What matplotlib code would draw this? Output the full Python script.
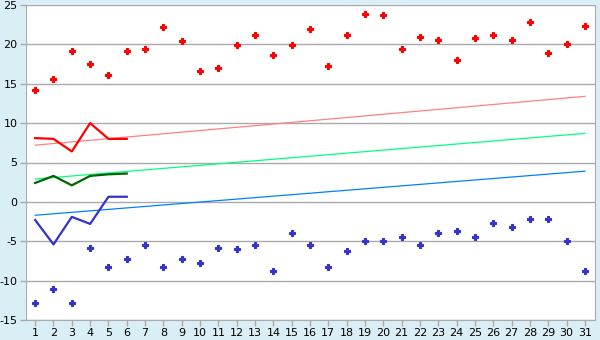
import numpy as np
import matplotlib.pyplot as plt

plt.rcParams['axes.unicode_minus'] = False

# Данные
days = np.arange(1, 32)
high_pts = [14.2, 15.6, 19.1, 17.5, 16.1, 19.2, 19.4, 22.2, 20.4, 16.6,
            17.0, 19.9, 21.2, 18.6, 19.9, 22.0, 17.3, 21.2, 23.9, 23.7,
            19.4, 21.0, 20.6, 18.0, 20.8, 21.2, 20.5, 22.9, 18.9, 20.0, 22.3]
low_pts = [-12.8, -11.1, -12.8, -5.8, -8.3, -7.2, -5.5, -8.3, -7.2, -7.7,
           -5.9, -6.0, -5.5, -8.8, -3.9, -5.5, -8.3, -6.3, -5.0, -5.0,
           -4.4, -5.5, -3.9, -3.7, -4.4, -2.7, -3.2, -2.2, -2.2, -5.0, -8.8]
line_days = np.arange(1, 7)
max_line = [8.1, 8.0, 6.4, 10.0, 8.0, 8.0]
avg_line = [2.4, 3.3, 2.1, 3.3, 3.5, 3.6]
min_line = [-2.3, -5.4, -1.9, -2.8, 0.65, 0.65]
trend_x = [1, 31]
trend_max = [7.2, 13.4]
trend_avg = [2.9, 8.7]
trend_min = [-1.7, 3.9]

bg = '#daeff5'
fig = plt.figure(figsize=(6, 3.4), dpi=100, facecolor=bg)
ax = fig.add_axes([26/600, 20/340, 569/600, 315/340])
ax.set_facecolor('white')

ax.plot(trend_x, trend_max, color='#ff8080', lw=0.9, zorder=2)
ax.plot(trend_x, trend_avg, color='#00ff80', lw=0.9, zorder=2)
ax.plot(trend_x, trend_min, color='#0080ff', lw=0.9, zorder=2)

ax.plot(line_days, max_line, color='#ff0000', lw=1.6, zorder=3)
ax.plot(line_days, avg_line, color='#006400', lw=1.6, zorder=3)
ax.plot(line_days, min_line, color='#3333cc', lw=1.6, zorder=3)

ax.plot(days, high_pts, 'P', color='#ff0000', ms=4.5, mew=0.8, zorder=4)
ax.plot(days, low_pts, 'P', color='#3333cc', ms=4.5, mew=0.8, zorder=4)

ax.set_xlim(0.5, 31.55)
ax.set_ylim(-15, 25)
ax.set_xticks(days)
ax.set_yticks(np.arange(-15, 26, 5))
ax.yaxis.grid(True, color='#aaaaaa', lw=1)
ax.set_axisbelow(True)
for s in ['top', 'left', 'right', 'bottom']:
    ax.spines[s].set_color('#aaaaaa')
ax.spines['top'].set_visible(False)
ax.tick_params(colors='#aaaaaa', labelcolor='black', labelsize=8, length=4, width=1, pad=2)
plt.savefig('out.png', dpi=100, facecolor=bg)
